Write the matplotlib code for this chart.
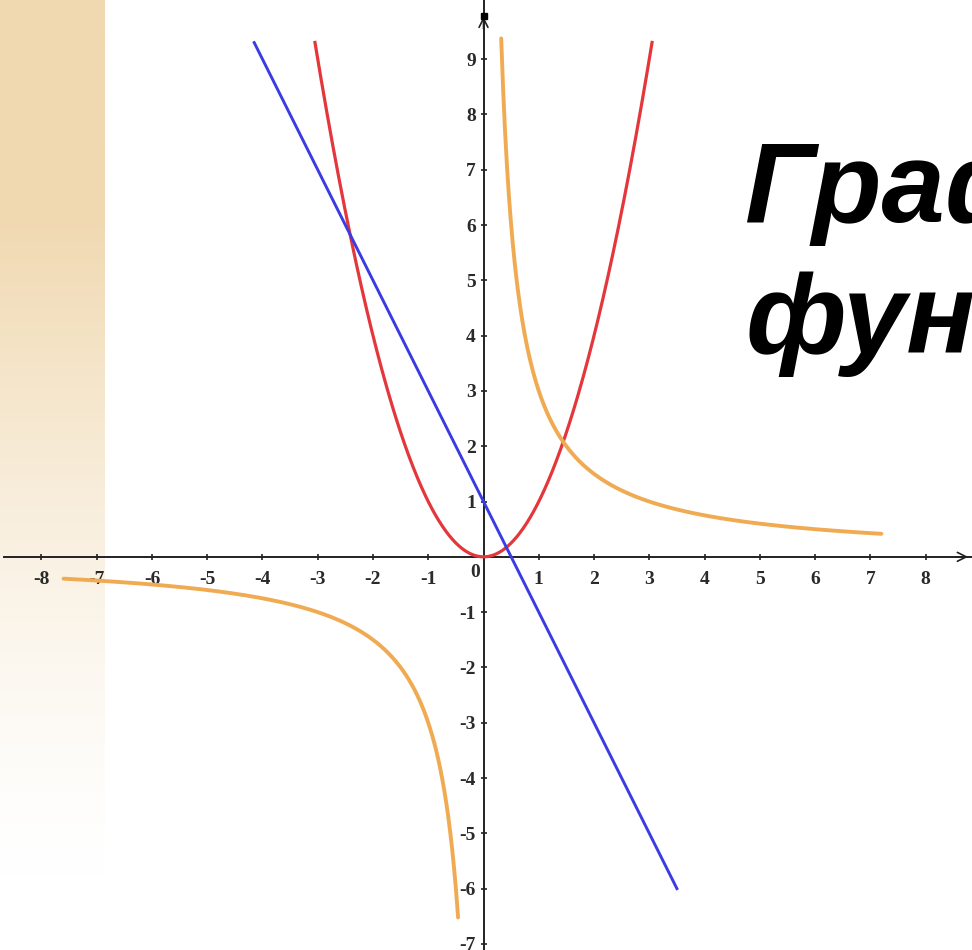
import numpy as np
import matplotlib
matplotlib.use("Agg")
import matplotlib.pyplot as plt

# Function parameters and the x-ranges over which each curve is drawn
parabola_a = 1.0                 # y = a * x^2
parabola_range = [-3.05, 3.05]
line_slope = -2.0                # y = k * x + b
line_intercept = 1.0
line_range = [-4.15, 3.5]
hyperbola_k = 3.0                # y = k / x
hyperbola_right = [0.32, 7.2]
hyperbola_left = [-7.6, -0.46]

x_ticks = [-8, -7, -6, -5, -4, -3, -2, -1, 1, 2, 3, 4, 5, 6, 7, 8]
y_ticks = [-7, -6, -5, -4, -3, -2, -1, 1, 2, 3, 4, 5, 6, 7, 8, 9]

title_lines = ["Графики", "функций"]

W, H = 972, 950
fig = plt.figure(figsize=(W / 100, H / 100), dpi=100)
fig.patch.set_facecolor("white")

# Beige decorative strip along the left edge
strip = fig.add_axes([0, 0, 105 / W, 1], zorder=0)
rows = 400
t = np.linspace(0, 1, rows)[:, None]
fade = np.clip(1.0 - np.maximum(t - 0.22, 0) / 0.7, 0, 1) ** 1.4
base = np.array([240, 216, 176]) / 255.0
img = np.ones((rows, 1, 3)) * (1 - fade[..., None]) + base * fade[..., None]
img = np.clip(img, 0, 1)
strip.imshow(img, aspect="auto", extent=[0, 1, 0, 1], origin="upper")
strip.axis("off")

ax = fig.add_axes([0, 0, 1, 1], zorder=1)
ax.patch.set_alpha(0)
ax.set_xlim(-8.75, 8.84)
ax.set_ylim(-7.11, 10.07)

axis_col = "#222222"
for side in ("top", "right"):
    ax.spines[side].set_visible(False)
ax.spines["left"].set_position(("data", 0))
ax.spines["bottom"].set_position(("data", 0))
ax.spines["left"].set_bounds(-7.12, 10.07)
ax.spines["bottom"].set_bounds(-8.68, 8.84)
for s in ("left", "bottom"):
    ax.spines[s].set_color(axis_col)
    ax.spines[s].set_linewidth(1.4)

ax.set_xticks(x_ticks)
ax.set_yticks(y_ticks)
ax.set_xticklabels([f"-{abs(v)}" if v < 0 else str(v) for v in x_ticks])
ax.set_yticklabels([f"-{abs(v)}" if v < 0 else str(v) for v in y_ticks])
ax.tick_params(axis="both", direction="inout", length=5, width=1.2,
               colors=axis_col, labelsize=14)
ax.tick_params(axis="x", pad=8)
ax.tick_params(axis="y", pad=3)
for lab in ax.get_xticklabels() + ax.get_yticklabels():
    lab.set_fontfamily("Liberation Serif")
    lab.set_fontweight("bold")
    lab.set_color("#2a2a2a")

ax.text(-0.15, -0.28, "0", ha="center", va="center", fontsize=14,
        fontfamily="Liberation Serif", fontweight="bold", color="#2a2a2a")

# Axis arrowheads (open chevrons)
ax.annotate("", xy=(8.82, 0), xytext=(8.5, 0),
            arrowprops=dict(arrowstyle="->", color=axis_col, lw=1.2,
                            mutation_scale=16))
ax.annotate("", xy=(0, 9.82), xytext=(0, 9.5),
            arrowprops=dict(arrowstyle="->", color=axis_col, lw=1.2,
                            mutation_scale=16))
ax.plot([0], [9.78], marker="s", ms=5, color="black", zorder=5)

# Curves
xp = np.linspace(parabola_range[0], parabola_range[1], 400)
ax.plot(xp, parabola_a * xp ** 2, color="#e3373c", lw=2.3, zorder=3)

xl = np.array(line_range)
ax.plot(xl, line_slope * xl + line_intercept, color="#3b3be4", lw=2.1, zorder=4)

orange = "#f0ab52"
xr = np.linspace(hyperbola_right[0], hyperbola_right[1], 400)
ax.plot(xr, hyperbola_k / xr, color=orange, lw=2.8, zorder=3,
        solid_capstyle="round")
xn = np.linspace(hyperbola_left[0], hyperbola_left[1], 400)
ax.plot(xn, hyperbola_k / xn, color=orange, lw=2.8, zorder=3,
        solid_capstyle="round")

# Title, running off the right edge
fig.text(745 / W, 1 - 222 / H, title_lines[0], fontsize=82,
         fontfamily="Liberation Sans", fontweight="bold", fontstyle="italic",
         color="black", ha="left", va="baseline")
fig.text(745 / W, 1 - 353 / H, title_lines[1], fontsize=82,
         fontfamily="Liberation Sans", fontweight="bold", fontstyle="italic",
         color="black", ha="left", va="baseline")

fig.savefig("out.png", dpi=100, facecolor="white")
